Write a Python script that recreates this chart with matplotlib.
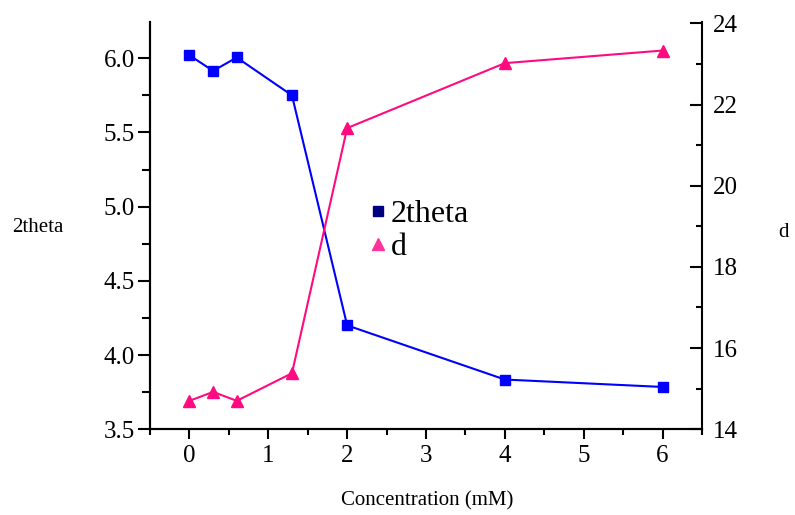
import matplotlib
matplotlib.use('Agg')
import matplotlib.pyplot as plt
from matplotlib.lines import Line2D
from matplotlib.ticker import MultipleLocator

# Datos
concentration = [0, 0.3, 0.6, 1.3, 2, 4, 6]
two_theta = [6.02, 5.915, 6.005, 5.75, 4.20, 3.835, 3.785]
d_spacing = [14.70, 14.92, 14.70, 15.38, 21.42, 23.02, 23.33]

plt.rcParams['font.family'] = ['Liberation Serif', 'DejaVu Serif']

blue = '#0000FF'
pink = '#FF0A80'

fig = plt.figure(figsize=(7.95, 5.15), dpi=100)
ax = fig.add_axes([0.1887, 0.1665, 0.6943, 0.7913])
ax2 = ax.twinx()

ax.plot(concentration, two_theta, color=blue, lw=1.5, marker='s', ms=6.5,
        mec=blue, mfc=blue, zorder=3)
ax2.plot(concentration, d_spacing, color=pink, lw=1.5, marker='^', ms=8.5,
         mec=pink, mfc=pink)

ax.set_xlim(-0.5, 6.5)
ax.set_ylim(3.5, 6.246)
ax2.set_ylim(14, 24.04)

ax.xaxis.set_major_locator(MultipleLocator(1))
ax.xaxis.set_minor_locator(MultipleLocator(0.5))
ax.yaxis.set_major_locator(MultipleLocator(0.5))
ax.yaxis.set_minor_locator(MultipleLocator(0.25))
ax2.yaxis.set_major_locator(MultipleLocator(2))
ax2.yaxis.set_minor_locator(MultipleLocator(1))
ax.yaxis.set_major_formatter(matplotlib.ticker.FormatStrFormatter('%.1f'))

for a in (ax, ax2):
    a.spines['top'].set_visible(False)
    for s in a.spines.values():
        s.set_linewidth(1.5)

ax.spines['right'].set_visible(False)
ax.tick_params(axis='both', which='major', direction='out', length=7,
               width=1.5, labelsize=18, pad=4)
ax.tick_params(axis='both', which='minor', direction='out', length=4,
               width=1.5)
ax.tick_params(axis='y', which='major', length=9, pad=2)
ax.tick_params(axis='y', which='minor', length=6)
ax2.tick_params(axis='y', which='major', direction='in', length=9,
                width=1.5, labelsize=18, pad=8)
ax2.tick_params(axis='y', which='minor', direction='in', length=4, width=1.5)

ax.set_xlabel('Concentration (mM)', fontsize=15, va='center')
ax.xaxis.set_label_coords(0.503, -0.176)
ax.set_ylabel('2theta', fontsize=15, rotation=0, va='center', ha='center')
ax.yaxis.set_label_coords(-0.203, 0.494)
ax2.set_ylabel('d', fontsize=15, rotation=0, va='center', ha='center')
ax2.yaxis.set_label_coords(1.147, 0.484)

handles = [
    Line2D([], [], ls='none', marker='s', ms=7, color='#000080'),
    Line2D([], [], ls='none', marker='^', ms=8, color='#FF3399'),
]
ax.legend(handles, ['2theta', 'd'], loc='center left',
          bbox_to_anchor=(0.355, 0.487), frameon=False, fontsize=23,
          handletextpad=-0.2, handlelength=1.2, labelspacing=0.1,
          borderaxespad=0)

fig.savefig('out.png', dpi=100)
